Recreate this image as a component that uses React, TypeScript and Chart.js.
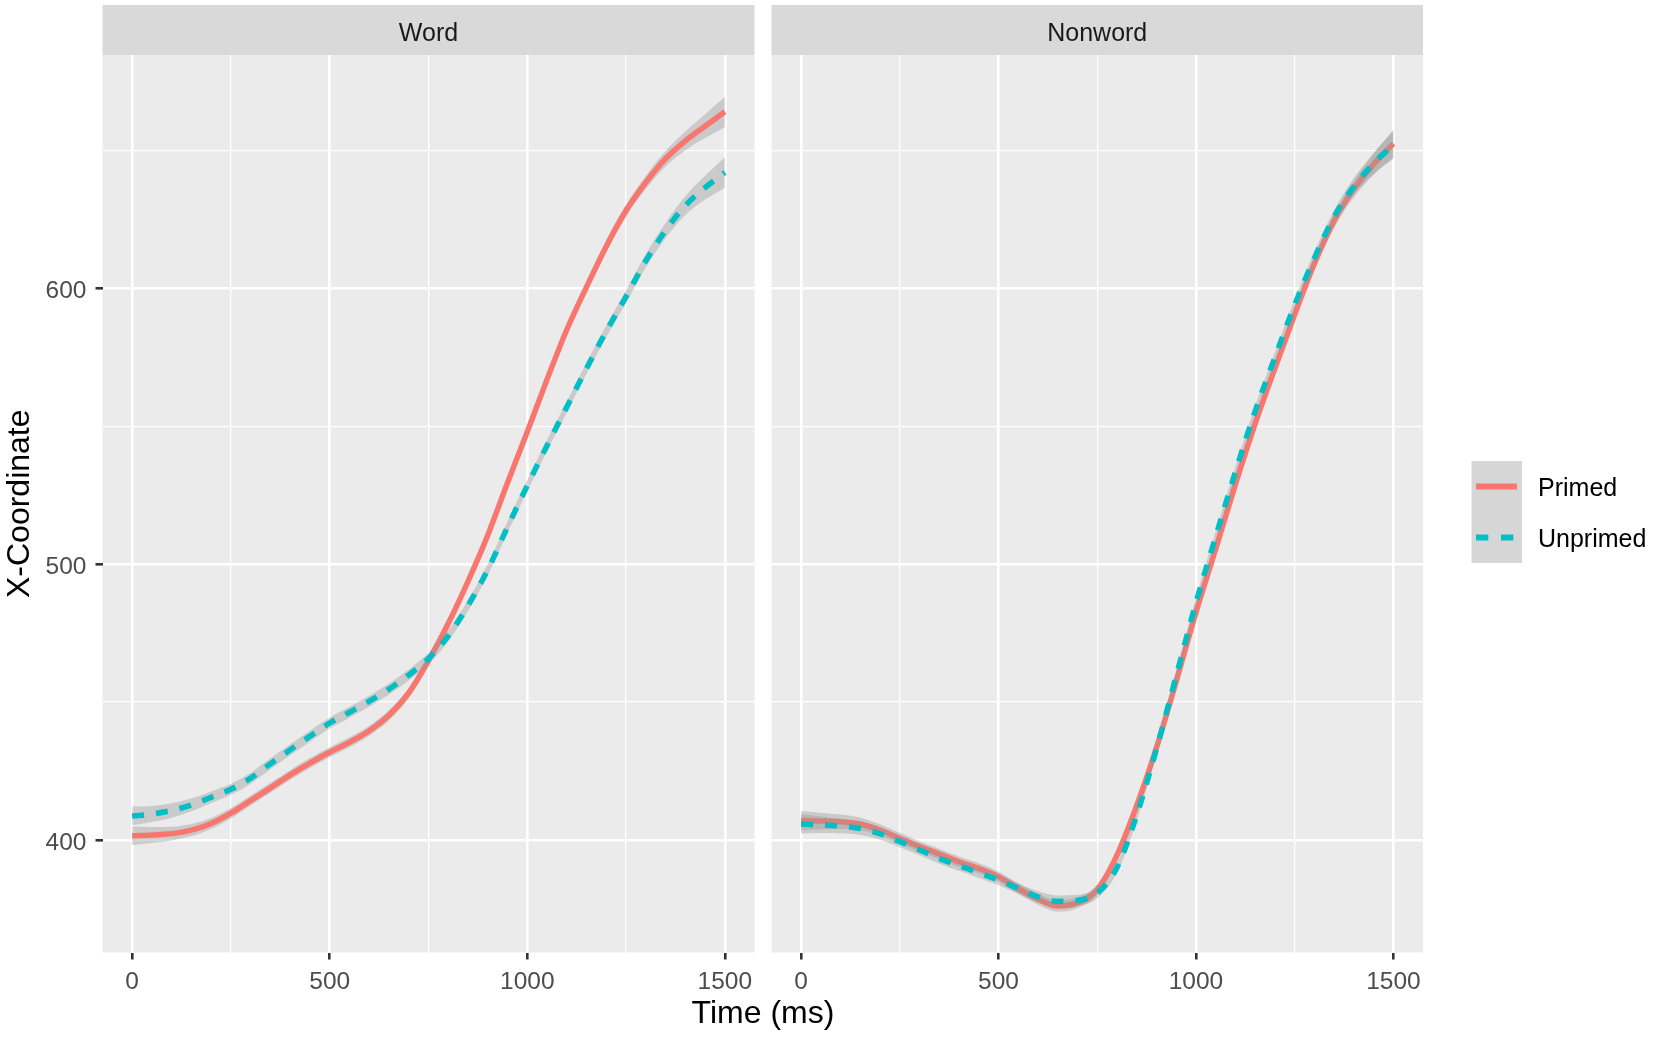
import React, { useEffect, useRef } from 'react';
import { Chart, registerables, ChartConfiguration, Plugin } from 'chart.js';

Chart.register(...registerables);

const timeMs = [
  0, 50, 100, 150, 200, 250, 300, 350, 400, 450, 500, 550, 600, 650, 700, 750,
  800, 850, 900, 950, 1000, 1050, 1100, 1150, 1200, 1250, 1300, 1350, 1400, 1450, 1500,
];

const wordPrimed = [
  401.5, 401.8, 402.3, 403.6, 406.0, 409.7, 414.3, 418.9, 423.6, 427.9, 431.8, 435.4, 439.6, 445.2, 453.3, 465.0,
  478.5, 493.8, 510.5, 529.5, 548.0, 567.0, 585.0, 600.5, 615.3, 628.2, 638.4, 647.0, 653.5, 658.8, 664.0,
];
const wordUnprimed = [
  408.7, 409.4, 410.7, 412.7, 415.5, 418.4, 422.4, 427.6, 432.7, 437.6, 442.4, 446.3, 450.3, 454.7, 459.8, 465.8,
  474.0, 485.0, 498.0, 513.5, 528.5, 543.0, 557.0, 571.0, 584.5, 597.0, 610.0, 621.0, 630.0, 636.5, 642.0,
];
const nonwordPrimed = [
  407.0, 406.9, 406.6, 405.8, 403.6, 400.6, 397.6, 394.9, 392.1, 389.7, 386.7, 382.4, 378.5, 376.1, 377.2, 382.0,
  394.5, 412.5, 433.5, 457.5, 482.5, 505.5, 529.0, 551.0, 571.0, 590.5, 609.0, 624.5, 636.0, 645.0, 652.5,
];
const nonwordUnprimed = [
  405.8, 405.5, 405.0, 404.1, 402.2, 399.4, 396.4, 393.3, 390.7, 388.1, 385.5, 382.4, 379.4, 377.8, 378.1, 380.8,
  390.0, 409.0, 433.0, 459.5, 486.0, 510.0, 533.5, 555.5, 575.0, 594.0, 611.0, 626.0, 637.0, 645.3, 652.0,
];

// half-width of the grey confidence band around each curve
const wordPrimedSe = [
  3.4, 2.9, 2.5, 2.2, 2.0, 1.9, 1.8, 1.8, 1.8, 1.8, 1.8, 1.8, 1.8, 1.9, 1.9, 2.0,
  2.0, 2.0, 2.0, 2.0, 2.0, 2.0, 2.0, 2.0, 2.1, 2.2, 2.4, 2.8, 3.4, 4.3, 5.5,
];
const wordUnprimedSe = [
  3.4, 2.9, 2.6, 2.3, 2.1, 2.0, 2.0, 2.0, 2.0, 2.0, 2.0, 2.0, 2.0, 2.0, 2.0, 2.0,
  2.0, 2.0, 2.0, 2.0, 2.0, 2.0, 2.0, 2.0, 2.1, 2.2, 2.4, 2.8, 3.4, 4.3, 5.5,
];
const nonwordPrimedSe = [
  3.5, 3.0, 2.6, 2.3, 2.1, 2.0, 1.9, 1.9, 1.9, 1.9, 1.9, 1.9, 2.0, 2.1, 2.0, 1.9,
  1.9, 1.9, 1.9, 1.9, 1.9, 1.9, 1.9, 1.9, 1.9, 2.0, 2.2, 2.5, 3.0, 3.8, 5.0,
];
const nonwordUnprimedSe = [
  3.5, 3.0, 2.6, 2.3, 2.1, 2.0, 1.9, 1.9, 1.9, 1.9, 1.9, 1.9, 2.0, 2.1, 2.0, 1.9,
  1.9, 1.9, 1.9, 1.9, 1.9, 1.9, 1.9, 1.9, 1.9, 2.0, 2.2, 2.5, 3.0, 3.8, 5.0,
];

const panelNames = ['Word', 'Nonword'];
const seriesNames = ['Primed', 'Unprimed'];
const xTicks = [0, 250, 500, 750, 1000, 1250, 1500];
const xLabels = [0, 500, 1000, 1500];
const yTicks = [400, 450, 500, 550, 600, 650];
const yLabels = [400, 500, 600];

const FONT = '"Liberation Sans", Arial, Helvetica, sans-serif';
const RED = '#F8766D';
const CYAN = '#00BFC4';
const BAND = 'rgba(153,153,153,0.4)';
const NONE = 'rgba(0,0,0,0)';

const toPoints = (vals: number[], se?: number[], sign = 0) =>
  timeMs.map((t, i) => ({ x: t, y: vals[i] + (se ? sign * se[i] : 0) }));

function makeDatasets(primed: number[], primedSe: number[], unprimed: number[], unprimedSe: number[]) {
  const curve = { pointRadius: 0, cubicInterpolationMode: 'monotone' as const };
  const band = { ...curve, borderWidth: 0, borderColor: NONE };
  const line = { ...curve, borderWidth: 5.5, borderCapStyle: 'butt' as const, fill: false };
  // ggplot draws ribbon + line per group, so the second ribbon sits over the first line
  return [
    { ...band, data: toPoints(primed, primedSe, -1), fill: false, order: 6 },
    { ...band, data: toPoints(primed, primedSe, 1), fill: '-1', backgroundColor: BAND, order: 5 },
    { ...line, label: seriesNames[0], data: toPoints(primed), borderColor: RED, order: 4 },
    { ...band, data: toPoints(unprimed, unprimedSe, -1), fill: false, order: 3 },
    { ...band, data: toPoints(unprimed, unprimedSe, 1), fill: '-1', backgroundColor: BAND, order: 2 },
    { ...line, label: seriesNames[1], data: toPoints(unprimed), borderColor: CYAN, borderDash: [12, 12], order: 1 },
  ];
}

// grey panel background + facet strip on top
const panelBackground: Plugin = {
  id: 'panelBackground',
  beforeDraw(chart, _args, opts: any) {
    const { ctx, chartArea: a } = chart;
    ctx.save();
    ctx.fillStyle = '#EBEBEB';
    ctx.fillRect(a.left, a.top, a.right - a.left, a.bottom - a.top);
    ctx.fillStyle = '#D9D9D9';
    ctx.fillRect(a.left, 5, a.right - a.left, a.top - 5);
    ctx.fillStyle = '#1A1A1A';
    ctx.font = `25px ${FONT}`;
    ctx.textAlign = 'center';
    ctx.textBaseline = 'middle';
    ctx.fillText(opts.label, (a.left + a.right) / 2, 34);
    ctx.restore();
  },
};

// ggplot style legend to the right of the second panel
const facetLegend: Plugin = {
  id: 'facetLegend',
  afterDraw(chart) {
    const { ctx, chartArea: a } = chart;
    const left = a.right + 48.5;
    const top = 461;
    const keyW = 50.5;
    const keyH = 51;
    ctx.save();
    ctx.fillStyle = '#D6D6D6';
    ctx.fillRect(left, top, keyW, keyH * 2);
    ctx.lineWidth = 6;
    ctx.lineCap = 'butt';
    [RED, CYAN].forEach((color, i) => {
      const y = top + keyH * i + keyH / 2;
      ctx.strokeStyle = color;
      ctx.setLineDash(i === 1 ? [12.3, 12.7] : []);
      ctx.beginPath();
      ctx.moveTo(left + 4.5, y);
      ctx.lineTo(left + 45.5, y);
      ctx.stroke();
      ctx.fillStyle = '#000000';
      ctx.font = `25px ${FONT}`;
      ctx.textAlign = 'left';
      ctx.textBaseline = 'middle';
      ctx.fillText(seriesNames[i], left + 66.5, y + 3);
    });
    ctx.restore();
  },
};

function makeConfig(panel: number): ChartConfiguration<'line'> {
  const first = panel === 0;
  const datasets =
    panel === 0
      ? makeDatasets(wordPrimed, wordPrimedSe, wordUnprimed, wordUnprimedSe)
      : makeDatasets(nonwordPrimed, nonwordPrimedSe, nonwordUnprimed, nonwordUnprimedSe);

  return {
    type: 'line',
    data: { datasets: datasets as any },
    plugins: first ? [panelBackground] : [panelBackground, facetLegend],
    options: {
      responsive: false,
      animation: false,
      layout: {
        padding: first ? { top: 55, right: 10.5, left: 0, bottom: 0 } : { top: 55, right: 231, left: 6.5, bottom: 0 },
      },
      plugins: {
        legend: { display: false },
        tooltip: { enabled: false },
        panelBackground: { label: panelNames[panel] },
      } as any,
      scales: {
        x: {
          type: 'linear',
          min: -75,
          max: 1575,
          bounds: 'data',
          afterBuildTicks: (axis) => {
            axis.ticks = xTicks.map((v) => ({ value: v }));
          },
          afterFit: (axis) => {
            axis.height = 84.5;
          },
          border: { display: false },
          grid: {
            color: '#FFFFFF',
            lineWidth: (ctx) => (ctx.tick && ctx.tick.value % 500 === 0 ? 2.6 : 1.3),
            tickColor: (ctx) => (ctx.tick && ctx.tick.value % 500 === 0 ? '#333333' : NONE),
            tickWidth: 2.6,
            tickLength: 7,
          },
          ticks: {
            autoSkip: false,
            maxRotation: 0,
            padding: 8,
            color: '#4D4D4D',
            font: { family: FONT, size: 24.5 },
            callback: (v) => (xLabels.includes(Number(v)) ? String(v) : ''),
          },
        },
        y: {
          type: 'linear',
          min: 359.2,
          max: 684.6,
          bounds: 'data',
          afterBuildTicks: (axis) => {
            axis.ticks = yTicks.map((v) => ({ value: v }));
          },
          afterFit: (axis) => {
            axis.width = first ? 102.5 : 0;
          },
          border: { display: false },
          grid: {
            color: '#FFFFFF',
            lineWidth: (ctx) => (ctx.tick && ctx.tick.value % 100 === 0 ? 2.6 : 1.3),
            tickColor: (ctx) => (ctx.tick && ctx.tick.value % 100 === 0 ? '#333333' : NONE),
            tickWidth: 2.6,
            tickLength: 7,
            drawTicks: first,
          },
          ticks: {
            display: first,
            padding: 9,
            labelOffset: 3,
            color: '#4D4D4D',
            font: { family: FONT, size: 24.5 },
            callback: (v) => (yLabels.includes(Number(v)) ? String(v) : ''),
          },
          title: {
            display: first,
            text: 'X-Coordinate',
            color: '#000000',
            font: { family: FONT, size: 32, lineHeight: 1.2 },
            padding: { top: 1, bottom: 0 },
          },
        },
      },
    },
  };
}

export default function App() {
  const wordRef = useRef<HTMLCanvasElement>(null);
  const nonwordRef = useRef<HTMLCanvasElement>(null);

  useEffect(() => {
    const charts: Chart[] = [];
    if (wordRef.current) charts.push(new Chart(wordRef.current, makeConfig(0)));
    if (nonwordRef.current) charts.push(new Chart(nonwordRef.current, makeConfig(1)));
    return () => {
      charts.forEach((c) => c.destroy());
    };
  }, []);

  return (
    <div style={{ position: 'absolute', left: 0, top: 0, width: 1654, height: 1037, background: '#FFFFFF', overflow: 'hidden' }}>
      <canvas ref={wordRef} width={765} height={1037} style={{ position: 'absolute', left: 0, top: 0, display: 'block' }} />
      <canvas ref={nonwordRef} width={889} height={1037} style={{ position: 'absolute', left: 765, top: 0, display: 'block' }} />
      <div
        style={{
          position: 'absolute',
          left: 563,
          top: 996,
          width: 400,
          textAlign: 'center',
          fontFamily: FONT,
          fontSize: 32,
          lineHeight: '32px',
          color: '#000000',
          whiteSpace: 'nowrap',
        }}
      >
        Time (ms)
      </div>
    </div>
  );
}
